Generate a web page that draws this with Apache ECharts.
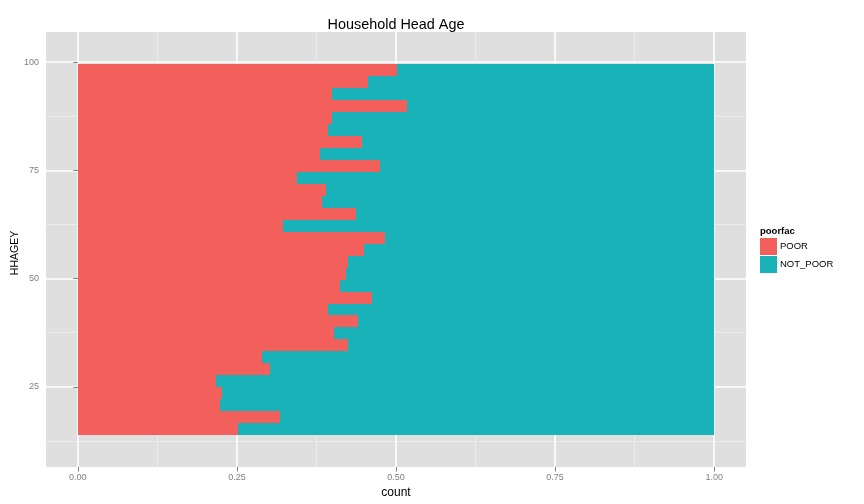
<!DOCTYPE html>
<html>
<head>
<meta charset="utf-8">
<script src="https://cdn.jsdelivr.net/npm/echarts@6/dist/echarts.min.js"></script>
<style>html,body{margin:0;padding:0;background:#fff}#c{width:864px;height:504px}</style>
</head>
<body>
<div id="c"></div>
<script>
// HHAGEY bins (lower / upper edges), bottom to top
const binLo = [13.80,16.57,19.33,22.10,24.87,27.63,30.40,33.17,35.93,38.70,41.47,44.23,47.00,49.77,52.53,55.30,58.07,60.83,63.60,66.37,69.13,71.90,74.67,77.43,80.20,82.97,85.73,88.50,91.27,94.03,96.80];
const binHi = [16.57,19.33,22.10,24.87,27.63,30.40,33.17,35.93,38.70,41.47,44.23,47.00,49.77,52.53,55.30,58.07,60.83,63.60,66.37,69.13,71.90,74.67,77.43,80.20,82.97,85.73,88.50,91.27,94.03,96.80,99.57];
// share of POOR in each bin (fill position), bottom to top
const poor = [0.251,0.318,0.223,0.226,0.217,0.302,0.290,0.424,0.402,0.440,0.393,0.462,0.412,0.421,0.425,0.449,0.482,0.323,0.437,0.383,0.390,0.345,0.475,0.380,0.446,0.393,0.400,0.517,0.400,0.456,0.501];
const categories = ['POOR','NOT_POOR'];
const xTicks = [0,0.25,0.5,0.75,1];
const xMinor = [0.125,0.375,0.625,0.875];
const yTicks = [25,50,75,100];
const yMinor = [12.5,37.5,62.5,87.5];

const colors = ['#F35F5A','#19B2B8'];
const poorData = binLo.map((lo,i)=>[lo, binHi[i], 0, poor[i]]);
const notPoorData = binLo.map((lo,i)=>[lo, binHi[i], poor[i], 1]);

function renderItem(params, api){
  const y0 = api.value(0), y1 = api.value(1), x0 = api.value(2), x1 = api.value(3);
  const a = api.coord([x0, y1]);
  const b = api.coord([x1, y0]);
  const ax = Math.round(a[0]), ay = Math.round(a[1]), bx = Math.round(b[0]), by = Math.round(b[1]);
  const col = api.visual('color');
  return {type:'rect', shape:{x:ax, y:ay, width:bx-ax, height:by-ay},
    style:{fill:col}};
}

const FF = 'Liberation Sans, Arial, sans-serif';
const tickFont = {fontFamily:FF, fontSize:9, color:'#7F7F7F'};
const chart = echarts.init(document.getElementById('c'), null, {renderer:'canvas'});
chart.setOption({
  animation:false,
  backgroundColor:'#ffffff',
  grid:{left:46, top:32, right:118, bottom:37, show:true, backgroundColor:'#DFDFDF', borderWidth:0,
    containLabel:false, outerBoundsMode:'none'},
  legend:{data:categories, orient:'vertical', left:760, top:238, padding:0, itemWidth:17, itemHeight:17, itemGap:1,
    icon:'rect', textStyle:{fontFamily:FF, fontSize:9.5, color:'#000', padding:[0,0,0,-2]}},
  graphic:[
    {type:'text', x:396, y:25, style:{text:'Household Head Age', font:'14.4px "Liberation Sans", Arial, sans-serif',
      fill:'#000', textAlign:'center', textVerticalAlign:'middle'}},
    {type:'text', x:15, y:253, rotation:Math.PI/2, style:{text:'HHAGEY', font:'10.5px "Liberation Sans", Arial, sans-serif',
      fill:'#000', textAlign:'center', textVerticalAlign:'middle'}},
    {type:'text', left:760, top:226, style:{text:'poorfac', font:'bold 9.5px "Liberation Sans", Arial, sans-serif', fill:'#000'}}
  ],
  xAxis:[
    {type:'value', min:-0.05, max:1.05, position:'bottom',
     name:'count', nameLocation:'middle', nameGap:17,
     nameTextStyle:{fontFamily:FF, fontSize:12, color:'#000'},
     axisLine:{show:false},
     axisTick:{show:true, customValues:xTicks, length:4.5, lineStyle:{color:'#7F7F7F', width:1}},
     axisLabel:{customValues:xTicks, formatter:v=>v.toFixed(2), margin:6, ...tickFont},
     splitLine:{show:true, lineStyle:{color:'#FFFFFF', width:1.6}}},
    {type:'value', min:-0.05, max:1.05, position:'top',
     axisLine:{show:false}, axisLabel:{show:false},
     axisTick:{show:false, customValues:xMinor},
     splitLine:{show:true, lineStyle:{color:'#EFEFEF', width:0.8}}}
  ],
  yAxis:[
    {type:'value', min:6.48, max:106.94, position:'left',
     axisLine:{show:false},
     axisTick:{show:true, customValues:yTicks, length:4.5, lineStyle:{color:'#7F7F7F', width:1}},
     axisLabel:{customValues:yTicks, margin:7, ...tickFont},
     splitLine:{show:true, lineStyle:{color:'#FFFFFF', width:1.6}}},
    {type:'value', min:6.48, max:106.94, position:'right',
     axisLine:{show:false}, axisLabel:{show:false},
     axisTick:{show:false, customValues:yMinor},
     splitLine:{show:true, lineStyle:{color:'#EFEFEF', width:0.8}}}
  ],
  series:[
    {name:'POOR', type:'custom', renderItem, data:poorData, color:colors[0], itemStyle:{color:colors[0]},
     xAxisIndex:0, yAxisIndex:0, encode:{x:[2,3], y:[0,1]}},
    {name:'NOT_POOR', type:'custom', renderItem, data:notPoorData, color:colors[1], itemStyle:{color:colors[1]},
     xAxisIndex:0, yAxisIndex:0, encode:{x:[2,3], y:[0,1]}}
  ]
});
</script>
</body>
</html>
